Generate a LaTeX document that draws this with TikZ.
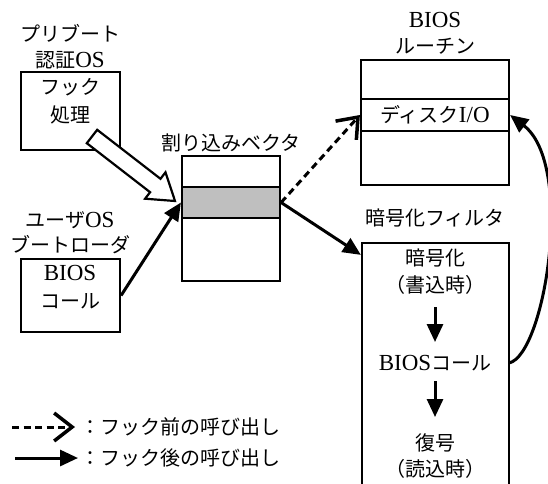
\documentclass[tikz,border=0pt]{standalone}
\usepackage{fontspec}
\setmainfont{Liberation Serif}[Scale=1.15]
\newfontfamily\jp{Noto Sans CJK JP}
\newcommand{\J}[1]{{\jp #1}}
\usetikzlibrary{arrows.meta}
\definecolor{bandgray}{RGB}{191,191,191}
\tikzset{
  box/.style={draw, line width=2.2pt, inner sep=0pt},
  lbl/.style={inner sep=0pt, font=\fontsize{20}{24}\selectfont},
  conn/.style={line width=3pt},
  tri/.style={-{Triangle[length=18pt,width=16pt]}},
  barb/.style={-{Straight Barb[length=18pt,width=28pt,line width=3.5pt]}},
  dsh/.style={dash pattern=on 7pt off 4.5pt},
  hollow/.style={draw, line width=2.2pt, fill=white, line join=miter},
}
\begin{document}
\begin{tikzpicture}[x=1pt,y=-1pt]
\useasboundingbox (0,0) rectangle (548,483);
% boxes
\node[box, minimum width=99pt, minimum height=78pt] (A) at (70.5,111) {};
\node[box, minimum width=99pt, minimum height=73pt] (U) at (70.5,295.5) {};
\node[box, minimum width=98pt, minimum height=125pt] (V) at (231,218.5) {};
\node[box, fill=bandgray, minimum width=98pt, minimum height=31pt] (Vg) at (231,202.5) {};
\node[box, minimum width=148pt, minimum height=125pt] (R) at (435,122.5) {};
\node[box, minimum width=148pt, minimum height=32pt] (D) at (435,115) {};
\node[box, minimum width=147pt, minimum height=270pt] (F) at (435.5,378) {};
% labels
\node[lbl] (lA1) at (70,33) {\J{プリブート}};
\node[lbl] (lA2) at (70,60) {\J{認証}OS};
\node[lbl] (tA1) at (70,87) {\J{フック}};
\node[lbl] (tA2) at (70,115) {\J{処理}};
\node[lbl] (lV) at (231,143) {\J{割り込みベクタ}};
\node[lbl] (lU1) at (70,220) {\J{ユーザ}OS};
\node[lbl] (lU2) at (70,245) {\J{ブートローダ}};
\node[lbl] (tU1) at (70,273) {BIOS};
\node[lbl] (tU2) at (70,301) {\J{コール}};
\node[lbl] (lR1) at (435,20) {BIOS};
\node[lbl] (lR2) at (435,46) {\J{ルーチン}};
\node[lbl] (tD) at (435,115) {\J{ディスク}I/O};
\node[lbl] (lF) at (435,218) {\J{暗号化フィルタ}};
\node[lbl] (tF1) at (435,258) {\J{暗号化}};
\node[lbl] (tF2) at (435,285) {\J{（書込時）}};
\node[lbl] (tF3) at (435,363) {BIOS\J{コール}};
\node[lbl] (tF4) at (435,443) {\J{復号}};
\node[lbl] (tF5) at (435,469) {\J{（読込時）}};
% hollow arrow from hook box to vector
\draw[hollow] (86.8,143.2) -- (97.2,129.8) -- (160.5,178.8) -- (165.5,172.3)
  -- (175,201) -- (145.1,198.7) -- (150.1,192.2) -- cycle;
% connectors
\draw[conn, dsh, barb] (Vg.east) -- (D.west);
\draw[conn, tri] (Vg.east) -- ([yshift=-13pt]F.north west);
\draw[conn, tri] (U.east) -- (Vg.west);
\coordinate (Fc) at (509,363);
\draw[conn, tri] (Fc) .. controls (545,355) and (575,165) .. (D.east);
\coordinate (a1s) at (435,307);
\coordinate (a1e) at (435,342);
\coordinate (a2s) at (435,381);
\coordinate (a2e) at (435,417);
\draw[conn, tri] (a1s) -- (a1e);
\draw[conn, tri] (a2s) -- (a2e);
% legend
\coordinate (k1s) at (12,427);
\coordinate (k1e) at (75,427);
\coordinate (k2s) at (15,458);
\coordinate (k2e) at (78,458);
\draw[conn, dsh, barb] (k1s) -- (k1e);
\draw[conn, tri] (k2s) -- (k2e);
\node[lbl, anchor=west] (g1) at (80,427) {\J{：フック前の呼び出し}};
\node[lbl, anchor=west] (g2) at (80,458) {\J{：フック後の呼び出し}};
\end{tikzpicture}
\end{document}
